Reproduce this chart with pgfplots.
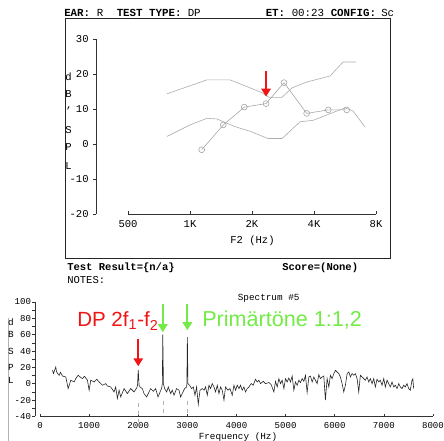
\documentclass[border=0pt]{standalone}
\usepackage{pgfplots}
\pgfplotsset{compat=1.18}
\usepackage{fontspec}
\setmainfont{Liberation Mono}
\newfontfamily\annot{Liberation Sans}
\usetikzlibrary{arrows.meta}
\definecolor{arrred}{RGB}{240,20,20}
\definecolor{arrgreen}{RGB}{115,235,70}
\begin{document}
\begin{tikzpicture}[x=0.75pt,y=0.75pt]
\path[use as bounding box] (0,0) rectangle (444,441);
% frame of the DP-gram
\draw[black!85, line width=0.6pt] (65,422.7) rectangle (390,183);
\draw[gray!60, line width=0.5pt] (8,123) -- (8,0);
% header
\begin{scope}[every node/.style={inner sep=0pt, anchor=base west, font=\fontsize{8.1}{9}\selectfont}]
\node at (64,424) {\bfseries EAR:};
\node at (96.5,424) {R};
\node at (116.5,424) {\bfseries TEST TYPE:};
\node at (187.5,424) {DP};
\node at (265.5,424) {\bfseries ET:};
\node at (291.5,424) {00:23};
\node at (330.5,424) {\bfseries CONFIG:};
\node at (381,424) {Sc};
\end{scope}
% footer of box
\begin{scope}[every node/.style={inner sep=0pt, anchor=base west, font=\fontsize{7.9}{9}\selectfont}]
\node at (67,170) {\bfseries Test Result=\{n/a\}};
\node at (282,170) {\bfseries Score=(None)};
\node at (67,157) {NOTES:};
\end{scope}
% y-label letters top
\begin{scope}[every node/.style={inner sep=0pt, font=\fontsize{7.9}{9}\selectfont}]
\node at (68.5,364) {d};
\node at (68.5,347) {B};
\node at (68.5,330) {'};
\node at (68.5,311) {S};
\node at (68.5,294) {P};
\node at (68.5,275) {L};
\node at (252.5,200.7) {F2 (Hz)};
\end{scope}
% y-label letters bottom
\begin{scope}[every node/.style={inner sep=0pt, font=\fontsize{7}{8}\selectfont}]
\node at (11,119) {d};
\node at (11,107) {B};
\node at (11,90) {S};
\node at (11,74) {P};
\node at (11,61) {L};
\node at (268.7,143) {Spectrum \#5};
\node at (238,4.3) {Frequency (Hz)};
\end{scope}

% ---------------- top DP-gram ----------------
\begin{axis}[at={(96pt,170.25pt)}, anchor=south west, scale only axis,
  width=186pt, height=131pt,
  xmode=log, log basis x=2, xmin=500, xmax=8000, ymin=-20, ymax=30,
  axis lines=left, axis line style={-, black!80, line width=0.5pt},
  axis y line shift=24pt,
  xtick={500,1000,2000,4000,8000}, xticklabels={500,1K,2K,4K,8K},
  ytick={-20,-10,0,10,20,30},
  xtick align=inside, ytick align=outside, major tick length=2pt,
  tick style={black!80, line width=0.5pt},
  tick label style={font=\fontsize{7.9}{9}\selectfont},
  xticklabel style={yshift=-1.5pt},
  /pgf/number format/assume math mode=true,
  clip=false]
\addplot[gray!65, line width=0.45pt] coordinates {(773,14.4) (1209,18.4) (1564,18.4) (1850,16.7) (2237,14.7) (2419,13.4) (2797,13.4) (3128,16.1) (3699,17.8) (4784,19.5) (5532,23.5) (6397,23.5)};
\addplot[gray!65, line width=0.45pt] coordinates {(773,2.2) (1000,5.5) (1209,7.4) (1353,7.2) (1654,5.0) (1956,3.7) (2392,1.6) (2797,1.6) (3421,6.4) (3956,6.8) (4784,8.7) (5657,10.4) (6186,9.5) (7075,4.9)};
\addplot[gray!70, line width=0.45pt, mark=o, mark size=2.2pt, mark options={gray!70, line width=0.45pt}] coordinates {(1140,-1.6) (1451,5.5) (1835,10.6) (2340,11.6) (2861,17.6) (3686,8.8) (4694,9.8) (5765,9.8)};
\draw[arrred, line width=2pt, -{Triangle[width=7pt,length=6pt]}] (axis cs:2340,20.8) -- (axis cs:2340,13.6);
\end{axis}

% ---------------- bottom spectrum ----------------
\begin{axis}[at={(30pt,18.375pt)}, anchor=south west, scale only axis,
  width=294.75pt, height=85.875pt,
  xmin=0, xmax=8000, ymin=-40, ymax=100,
  axis lines=left, axis line style={-, black!80, line width=0.5pt},
  axis y line shift=3.75pt,
  xtick={0,1000,...,8000}, ytick={-40,-20,...,100}, minor y tick num=1,
  xtick align=inside, ytick align=outside, major tick length=2pt, minor tick length=2pt,
  tick style={black!80, line width=0.5pt},
  tick label style={font=\fontsize{6.8}{8}\selectfont},
  yticklabel style={inner sep=0.8pt},
  xticklabel style={yshift=-1pt},
  scaled x ticks=false,
  /pgf/number format/1000 sep={},
  /pgf/number format/assume math mode=true,
  clip=false]
\addplot[gray!60, dashed, line width=0.4pt] coordinates {(2000,-23) (2000,-47)};
\addplot[gray!60, dashed, line width=0.4pt] coordinates {(2500,-21) (2500,-40)};
\addplot[gray!60, dashed, line width=0.4pt] coordinates {(3000,-21) (3000,-40)};
\addplot[black!85, line width=0.45pt] coordinates {
(254,16.5) (274,12.4) (321,20.5) (335,15.3) (356,12.8) (390,10.4) (417,14) (457,9.5) (525,8.3) (573,-5.9) (626,4.3) (695,2.2) (728,6.3) (777,10.4) (817,8.3) (864,6.3) (905,9.2) (966,4.3) (1000,-8) (1033,4.3) (1102,2.2) (1155,5.5) (1204,2.2) (1271,-1.8) (1338,0.2) (1372,-2.7) (1439,-3.9) (1508,-10) (1541,-3.9) (1576,-18) (1610,-7.9) (1643,-16.1) (1712,-5.9) (1779,-12) (1846,-5.9) (1915,-10) (1968,-5.1) (1985,-2) (2000,17) (2017,-2) (2037,-3.9) (2084,-5.9) (2118,-12) (2171,-16.1) (2220,-10) (2253,-5.9) (2307,-9.2) (2354,-5.9) (2403,-16.1) (2444,-10) (2475,-5.9) (2490,0) (2500,60.5) (2512,0) (2537,-5.9) (2578,-10) (2612,-3.9) (2659,-12) (2694,-7.9) (2728,-14) (2781,-5.9) (2830,-7.9) (2862,-16.1) (2911,-10) (2944,-5.9) (2984,-3.9) (2990,0) (3000,57) (3012,0) (3045,-1.8) (3086,-5.9) (3121,-3.9) (3155,-14) (3188,-3.9) (3222,-25) (3257,-7.9) (3304,-5.9) (3338,-7.9) (3371,-3.9) (3405,-14) (3440,-1.8) (3472,-5.9) (3507,0.2) (3541,-3.9) (3574,-10) (3609,-1.8) (3643,-12) (3676,-3.9) (3710,-7.9) (3745,-20) (3777,-3.9) (3826,-7.9) (3867,-5.9) (3914,-14) (3948,-1.8) (3981,-7.9) (4015,-1.8) (4050,-5.9) (4082,-1.8) (4117,-7.9) (4151,-3.9) (4184,-10) (4218,-5.9) (4253,-3.9) (4300,0.2) (4340,-1.8) (4387,5.5) (4422,2.2) (4456,4.3) (4489,0.2) (4544,3) (4591,0.2) (4660,1.5) (4706,-1) (4761,-10) (4794,3) (4828,-3.9) (4863,6.3) (4896,0.2) (4930,4.3) (4965,-5.9) (4997,6.3) (5032,2.2) (5066,7.1) (5099,2.2) (5133,9.5) (5168,-7.9) (5200,2.2) (5235,-1.8) (5270,4.3) (5302,1.5) (5337,6.3) (5371,3) (5404,10.4) (5438,-10.7) (5473,8.3) (5505,9.5) (5540,2.2) (5575,8.3) (5607,4.3) (5642,0.2) (5676,11.2) (5709,6.3) (5743,8.3) (5778,9.5) (5810,-20) (5845,6.3) (5880,-3.9) (5912,10.4) (5947,6.3) (5981,12.4) (6014,16.5) (6048,14.4) (6083,12.4) (6115,8.3) (6150,0.2) (6184,-10) (6217,-1.8) (6252,12.4) (6286,14.4) (6319,8.3) (6353,12.4) (6388,10.4) (6420,12.4) (6455,6.3) (6489,-10) (6522,10.4) (6556,8.3) (6591,6.3) (6624,4.3) (6658,8.3) (6693,2.2) (6725,6.3) (6760,0.2) (6794,6.3) (6827,-3.9) (6861,5.5) (6896,2.2) (6928,4.3) (6963,-1.8) (6998,6.3) (7030,-3.9) (7065,4.3) (7099,0.2) (7132,-3.9) (7167,2.2) (7201,-3.9) (7234,-1.8) (7268,-5.9) (7303,0.2) (7335,-3.9) (7370,-5.9) (7404,-1.8) (7437,-3.9) (7471,0.2) (7506,-5.9) (7538,-7.9) (7573,4.3) (7590,6) (7607,-6)};
\draw[arrred, line width=1.8pt, -{Triangle[width=7pt,length=6pt]}] (axis cs:2000,54.5) -- (axis cs:2000,21.4);
\draw[arrgreen, line width=1.6pt, -{Triangle[width=7pt,length=6pt]}] (axis cs:2500,97.5) -- (axis cs:2500,63);
\draw[arrgreen, line width=1.6pt, -{Triangle[width=7pt,length=6pt]}] (axis cs:3000,97.5) -- (axis cs:3000,65.5);
\end{axis}
% annotation texts
\node[inner sep=0pt, anchor=base west, text=arrred, font=\annot\fontsize{15.4}{18}\selectfont] at (77,114.3) {DP 2f\textsubscript{1}-f\textsubscript{2}};
\node[inner sep=0pt, anchor=base west, text=arrgreen, font=\annot\fontsize{16.2}{18}\selectfont] at (202,114.3) {Primärtöne 1:1,2};
\end{tikzpicture}
\end{document}
